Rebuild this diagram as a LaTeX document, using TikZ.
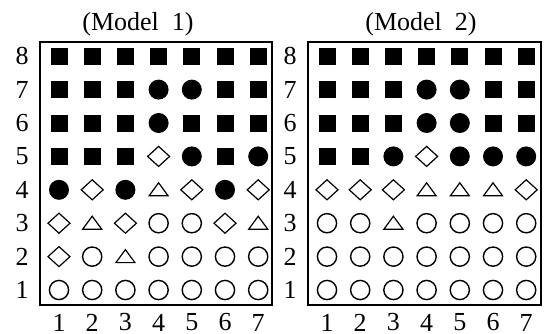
\documentclass[tikz,border=0pt]{standalone}
\usepackage{fontspec}
\setmainfont{Liberation Serif}
\newcommand\cellrow[4]{% #1 x of column 1, #2 row number, #3 marker list, #4 name prefix
  \foreach \t [count=\c] in {#3} {
    \pgfmathsetmacro\px{#1+(\c-1)*33.2}
    \pgfmathsetmacro\py{290-(#2-1)*33.4}
    \edef\tmp{\noexpand\pic (#4-#2-\c) at (\px,\py) {\t};}\tmp
  }}
\begin{document}
\begin{tikzpicture}[x=0.5pt,y=-0.5pt,
  frame/.style={line width=1pt},
  lbl/.style={font=\fontsize{13}{15}\selectfont, inner sep=0pt},
  sq/.pic={\fill (-8.5,-8.5) rectangle (8.5,8.5);},
  dot/.pic={\fill (0,0) circle[radius=5pt];},
  ring/.pic={\draw[line width=0.7pt] (0,0) circle[radius=4.8pt];},
  dia/.pic={\draw[line width=0.6pt, line join=miter] (0,-10) -- (11,0) -- (0,10) -- (-11,0) -- cycle;},
  tri/.pic={\draw[line width=0.6pt, line join=miter] (0,-7) -- (9.5,6) -- (-9.5,6) -- cycle;},
]
\useasboundingbox (0,0) rectangle (544,333);

% titles
\node[lbl] (title1) at (138,24) {(Model\ \ 1)};
\node[lbl] (title2) at (421,24) {(Model\ \ 2)};

% frames
\draw[frame] (39.5,41.5) rectangle (272,305);
\draw[frame] (307.7,41.5) rectangle (540.5,305);

% row and column numbers
\foreach \r in {1,...,8} {
  \node[lbl] (rowA\r) at (22,{290-(\r-1)*33.4}) {\r};
  \node[lbl] (rowB\r) at (290,{290-(\r-1)*33.4}) {\r};
}
\foreach \c in {1,...,7} {
  \node[lbl] (colA\c) at ({59+(\c-1)*33.2},322.5) {\c};
  \node[lbl] (colB\c) at ({327+(\c-1)*33.2},322.5) {\c};
}

% Model 1
\cellrow{59}{8}{sq,sq,sq,sq,sq,sq,sq}{a}
\cellrow{59}{7}{sq,sq,sq,dot,dot,sq,sq}{a}
\cellrow{59}{6}{sq,sq,sq,dot,sq,sq,sq}{a}
\cellrow{59}{5}{sq,sq,sq,dia,dot,sq,dot}{a}
\cellrow{59}{4}{dot,dia,dot,tri,dia,dot,dia}{a}
\cellrow{59}{3}{dia,tri,dia,ring,ring,dia,tri}{a}
\cellrow{59}{2}{dia,ring,tri,ring,ring,ring,ring}{a}
\cellrow{59}{1}{ring,ring,ring,ring,ring,ring,ring}{a}

% Model 2
\cellrow{327}{8}{sq,sq,sq,sq,sq,sq,sq}{b}
\cellrow{327}{7}{sq,sq,sq,dot,dot,sq,sq}{b}
\cellrow{327}{6}{sq,sq,sq,dot,dot,sq,sq}{b}
\cellrow{327}{5}{sq,sq,dot,dia,dot,dot,dot}{b}
\cellrow{327}{4}{dia,dia,dia,tri,tri,tri,dia}{b}
\cellrow{327}{3}{ring,ring,tri,ring,ring,ring,ring}{b}
\cellrow{327}{2}{ring,ring,ring,ring,ring,ring,ring}{b}
\cellrow{327}{1}{ring,ring,ring,ring,ring,ring,ring}{b}
\end{tikzpicture}
\end{document}
